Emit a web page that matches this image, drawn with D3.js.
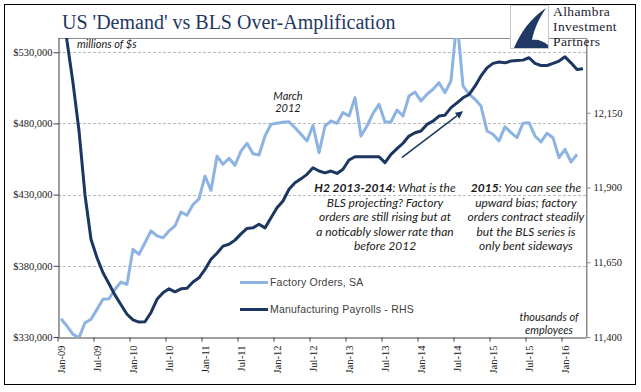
<!DOCTYPE html>
<html><head><meta charset="utf-8">
<script src="https://cdn.jsdelivr.net/npm/d3@7"></script>
<style>body{margin:0;background:#fff}svg{display:block}</style>
</head><body>
<script>
// ---------- DATA ----------
const months = [
"Jan-09","Feb-09","Mar-09","Apr-09","May-09","Jun-09","Jul-09","Aug-09","Sep-09","Oct-09","Nov-09","Dec-09",
"Jan-10","Feb-10","Mar-10","Apr-10","May-10","Jun-10","Jul-10","Aug-10","Sep-10","Oct-10","Nov-10","Dec-10",
"Jan-11","Feb-11","Mar-11","Apr-11","May-11","Jun-11","Jul-11","Aug-11","Sep-11","Oct-11","Nov-11","Dec-11",
"Jan-12","Feb-12","Mar-12","Apr-12","May-12","Jun-12","Jul-12","Aug-12","Sep-12","Oct-12","Nov-12","Dec-12",
"Jan-13","Feb-13","Mar-13","Apr-13","May-13","Jun-13","Jul-13","Aug-13","Sep-13","Oct-13","Nov-13","Dec-13",
"Jan-14","Feb-14","Mar-14","Apr-14","May-14","Jun-14","Jul-14","Aug-14","Sep-14","Oct-14","Nov-14","Dec-14",
"Jan-15","Feb-15","Mar-15","Apr-15","May-15","Jun-15","Jul-15","Aug-15","Sep-15","Oct-15","Nov-15","Dec-15",
"Jan-16","Feb-16","Mar-16","Apr-16"];
const xTickLabels = ["Jan-09","Jul-09","Jan-10","Jul-10","Jan-11","Jul-11","Jan-12","Jul-12",
"Jan-13","Jul-13","Jan-14","Jul-14","Jan-15","Jul-15","Jan-16"];

// Factory Orders, SA (millions of $) Jan-09 .. Mar-16
const factoryOrders = [
342800,337700,331900,329500,340000,342400,349400,356500,356900,363500,368600,367000,
391600,388100,396200,404500,401000,399700,404500,408000,417800,415500,423000,427000,
443000,433000,457000,451300,455500,450600,460600,466000,458700,457800,471200,479400,
480100,480800,481200,477000,472400,467700,478700,459400,478200,481700,480100,487600,
485200,498100,471200,478200,487100,493400,481000,481000,489400,485200,499300,502100,
495700,500500,504000,508600,501600,510000,553000,506300,500500,497000,492200,474700,
472400,467700,477700,473500,470000,480100,480500,471200,467000,473100,470000,455900,
461800,452900,458300];

// Manufacturing Payrolls (thousands) Jan-09 .. Apr-16
const payrolls = [
12561,12390,12250,12090,11875,11727,11665,11615,11578,11540,11508,11476,
11457,11450,11451,11482,11526,11548,11561,11551,11561,11563,11584,11598,
11626,11660,11680,11704,11710,11724,11745,11763,11765,11777,11765,11799,
11832,11855,11894,11916,11929,11944,11966,11955,11949,11955,11947,11961,
11992,12003,12003,12003,12003,12003,11983,12011,12030,12048,12072,12083,
12089,12111,12122,12139,12142,12167,12183,12200,12211,12239,12273,12300,
12315,12320,12317,12323,12325,12326,12334,12315,12308,12308,12315,12323,
12337,12317,12295,12297];

const leftTicks = [330000,380000,430000,480000,530000];
const rightTicks = [11400,11650,11900,12150];
const leftDomain = [330000,540000];
const rightDomain = [11400,12400];
const seriesNames = ["Factory Orders, SA","Manufacturing Payrolls - RHS"];
const arrowFrom = [56.8, 12000];   // [month index, payroll level]
const arrowTo = [66.8, 12152];

// ---------- LAYOUT ----------
const W = 641, H = 392;
const P = {l:58, r:586, t:38, b:337};
const cLight = "#8DB3E2", cDark = "#1B3660", cTitle = "#1F3864";

const svg = d3.select("body").append("svg").attr("width",W).attr("height",H);
svg.append("rect").attr("width",W).attr("height",H).attr("fill","#fff");
svg.append("rect").attr("x",4.5).attr("y",4.5).attr("width",631).attr("height",380)
  .attr("fill","none").attr("stroke","#000").attr("stroke-width",1);

const x = d3.scaleBand().domain(months).range([P.l,P.r]).padding(0);
const bw = x.bandwidth();
const xi = d3.scaleLinear().domain([0,months.length]).range([P.l,P.r]);
const yL = d3.scaleLinear().domain(leftDomain).range([P.b,P.t]);
const yR = d3.scaleLinear().domain(rightDomain).range([P.b,P.t]);

// gridlines
svg.append("g").selectAll("line").data(leftTicks.slice(1)).join("line")
  .attr("x1",P.l).attr("x2",P.r).attr("y1",d=>Math.round(yL(d))+0.5).attr("y2",d=>Math.round(yL(d))+0.5)
  .attr("stroke","#A6A6A6").attr("stroke-width",0.8).attr("stroke-dasharray","3,2");

// plot border top/right
svg.append("path").attr("d",`M${P.l},${P.t+0.5}H${P.r+0.5}V${P.b}`)
  .attr("fill","none").attr("stroke","#8C8C8C").attr("stroke-width",1);

// left axis
const gL = svg.append("g").attr("transform",`translate(${P.l+0.5},0)`)
  .call(d3.axisLeft(yL).tickValues(leftTicks).tickSize(5).tickSizeOuter(0)
    .tickFormat(d=>"$"+d3.format(",")(d)));
gL.select(".domain").attr("stroke","#404040");
gL.selectAll(".tick line").attr("stroke","#404040");
gL.selectAll("text").attr("font-family","Liberation Serif").attr("font-size",10.5).attr("fill","#222").attr("x",-6);

// right axis
const gR = svg.append("g").attr("transform",`translate(${P.r+0.5},0)`)
  .call(d3.axisRight(yR).tickValues(rightTicks).tickSize(4).tickSizeOuter(0)
    .tickFormat(d3.format(",")));
gR.select(".domain").attr("stroke","#8C8C8C");
gR.selectAll(".tick line").attr("stroke","#8C8C8C");
gR.selectAll("text").attr("font-family","Liberation Serif").attr("font-size",10.5).attr("fill","#222").attr("x",7);

// bottom axis
const gB = svg.append("g").attr("transform",`translate(0,${P.b+0.5})`)
  .call(d3.axisBottom(x).tickValues(xTickLabels).tickSize(4).tickSizeOuter(0));
gB.select(".domain").attr("stroke","#404040");
gB.selectAll(".tick line").attr("stroke","#404040").attr("transform",`translate(${-bw/2},0)`);
gB.selectAll(".tick text").attr("font-family","Liberation Serif").attr("font-size",10.5).attr("fill","#222")
  .attr("transform","rotate(-90)").attr("text-anchor","end").attr("x",-8).attr("y",0).attr("dy","0.35em");

// clip
svg.append("clipPath").attr("id","clip").append("rect")
  .attr("x",P.l).attr("y",P.t).attr("width",P.r-P.l).attr("height",P.b-P.t);
const plot = svg.append("g").attr("clip-path","url(#clip)");

const lineL = d3.line().x((d,i)=>x(months[i])+bw/2).y(d=>yL(d));
const lineR = d3.line().x((d,i)=>x(months[i])+bw/2).y(d=>yR(d));
plot.append("path").attr("d",lineL(factoryOrders)).attr("fill","none").attr("stroke",cLight)
  .attr("stroke-width",3).attr("stroke-linejoin","round");
plot.append("path").attr("d",lineR(payrolls)).attr("fill","none").attr("stroke",cDark)
  .attr("stroke-width",3).attr("stroke-linejoin","round");

// arrow
svg.append("defs").append("marker").attr("id","ah").attr("viewBox","0 0 10 10")
  .attr("refX",8).attr("refY",5).attr("markerWidth",5).attr("markerHeight",5).attr("orient","auto")
  .append("path").attr("d","M0,0L10,5L0,10Z").attr("fill",cDark);
svg.append("line").attr("x1",xi(arrowFrom[0]+0.5)).attr("y1",yR(arrowFrom[1]))
  .attr("x2",xi(arrowTo[0]+0.5)).attr("y2",yR(arrowTo[1]))
  .attr("stroke",cDark).attr("stroke-width",1.5).attr("marker-end","url(#ah)");

// legend
const lg = svg.append("g");
[[cLight,282.5],[cDark,309.5]].forEach((c,i)=>{
  lg.append("line").attr("x1",240).attr("x2",268).attr("y1",c[1]).attr("y2",c[1])
    .attr("stroke",c[0]).attr("stroke-width",3);
  lg.append("text").attr("x",270).attr("y",c[1]).attr("dy","0.35em").text(seriesNames[i])
    .attr("font-family","Liberation Sans").attr("font-size",10.5).attr("fill","#404040").attr("letter-spacing",0.2);
});

// title
svg.append("text").attr("x",62).attr("y",29).text("US 'Demand' vs BLS Over-Amplification")
  .attr("font-family","Liberation Serif").attr("font-size",20).attr("fill",cTitle);

// logo
const logo = svg.append("g");
logo.append("rect").attr("x",510.5).attr("y",5.5).attr("width",38).attr("height",43)
  .attr("fill","#fff").attr("stroke","#C8C8C8");
logo.append("path").attr("d","M514,48 C519,37 527,21 546,8 C538,20 534,30 532,40 C538,39 543,41 548,45 L548,48 Z")
  .attr("fill",cTitle);
["Alhambra","Investment","Partners"].forEach((t,i)=>{
  logo.append("text").attr("x",553).attr("y",16+i*15).text(t)
    .attr("font-family","Liberation Serif").attr("font-size",13.5).attr("letter-spacing",0.4).attr("fill","#1a1a2e");
});

// italic notes
const ital = (t,xx,yy,anchor,size)=>svg.append("text").attr("x",xx).attr("y",yy).text(t)
  .attr("font-family","Lato").attr("font-style","italic").attr("font-size",size||11)
  .attr("text-anchor",anchor||"start").attr("fill","#1a1a1a");
ital("millions of $s",77,48,"start",11);
ital("thousands of",549,321,"middle",11);
ital("employees",549,334,"middle",11);
ital("March",288,100,"middle",11);
ital("2012",288,112,"middle",11);

const noteRows = [192,206.5,221,235.5,250];
function note(cx, bold, rest, lines){
  const t = svg.append("text").attr("x",cx).attr("y",noteRows[0]).attr("text-anchor","middle")
    .attr("font-family","Lato").attr("font-style","italic").attr("font-size",12).attr("fill","#1a1a1a");
  t.append("tspan").attr("font-weight","bold").text(bold);
  t.append("tspan").text(rest);
  lines.forEach((l,i)=>ital(l,cx,noteRows[i+1],"middle",12));
}
note(385,"H2 2013-2014",":  What is the",["BLS projecting? Factory","orders are still rising but at","a noticably slower rate than","before 2012"]);
note(526,"2015",": You can see the",["upward bias; factory","orders contract steadily","but the BLS series is","only bent sideways"]);
</script>
</body></html>
